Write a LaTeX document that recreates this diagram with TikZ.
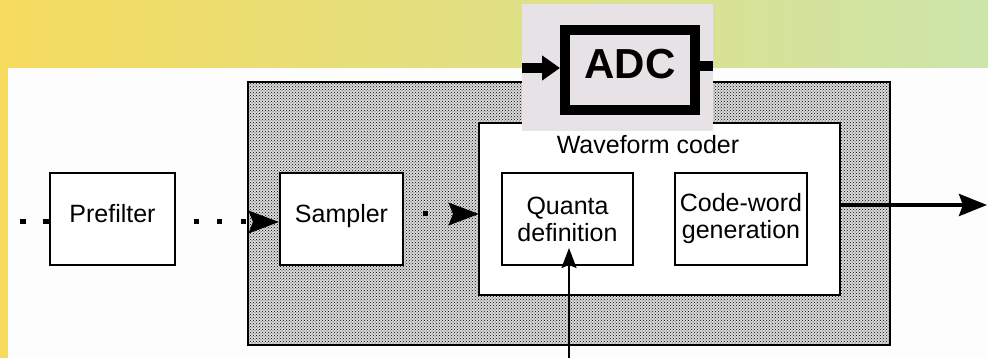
\documentclass[tikz,border=0pt]{standalone}
\usepackage{fontspec}
\setmainfont{Liberation Sans}
\usetikzlibrary{arrows.meta,patterns,calc}
\definecolor{bgL}{RGB}{246,219,94}
\definecolor{bgR}{RGB}{204,229,170}
\definecolor{adcbg}{RGB}{230,226,230}
\definecolor{panel}{RGB}{252,253,252}
\begin{document}
\begin{tikzpicture}[x=1pt,y=-1pt,
  blockbox/.style={draw=black,line width=2pt,fill=white,minimum height=92pt,inner sep=0pt,
    font=\fontsize{25}{27}\selectfont,align=center},
  oneline/.style={text height=18pt,text depth=10pt},
  dotline/.style={line width=5pt,dash pattern=on 5pt off 18.5pt},
  bighead/.style={-{Stealth[length=30pt,width=22pt,inset=4pt]}},
  stipple/.style={draw=black,line width=2pt,fill=black!14,
    postaction={pattern=crosshatch dots,pattern color=black}}]
\useasboundingbox (0,0) rectangle (988,358);
% background
\shade[left color=bgL,right color=bgR] (0,0) rectangle (988,358);
\fill[panel] (8,68) rectangle (988,358);
% ADC outer stippled block
\path[stipple] (248,82) rectangle (890,345);
\node[draw=black,line width=1.5pt,fill=white,minimum width=361pt,minimum height=172pt,inner sep=0pt] (coder) at (659.5,209) {};
\node[font=\fontsize{25}{27}\selectfont] (coderlbl) at (648,145) {Waveform coder};
% blocks
\node[blockbox,oneline,minimum width=125pt] (pre) at (112.5,219) {Prefilter};
\node[blockbox,oneline,minimum width=123pt] (samp) at (341.5,219) {Sampler};
\node[blockbox,minimum width=131pt] (quanta) at (567.5,219) {Quanta\\definition};
\node[blockbox,minimum width=132pt] (cw) at (741,219) {Code-word\\generation};
% connectors
\coordinate (src) at (20,222);
\coordinate (cin) at (479,214);
\coordinate (out) at (987,205);
\coordinate (qbot) at (569,358);
\coordinate (qtip) at (569,248);
\draw[line width=5pt,dash pattern=on 6pt off 17pt] (src) -- (pre.west |- src);
\draw[dotline,dash phase=6pt,bighead] (pre.east |- src) -- (samp.west |- src);
\draw[line width=5pt,dash pattern=on 5pt off 40pt,dash phase=-19pt,bighead] (samp.east |- cin) -- (cin);
\draw[line width=4pt,-{Stealth[length=28pt,width=22pt,inset=4pt]}] (coder.east |- out) -- (out);
\draw[line width=2pt,-{Stealth[length=20pt,width=15pt,inset=3pt]}] (qbot) -- (qtip);
% ADC inset
\fill[adcbg] (522,4) rectangle (713,131);
\node[draw=black,line width=10pt,minimum width=130pt,minimum height=80pt,inner sep=0pt,
  text height=30pt,text depth=12pt,font=\bfseries\fontsize{42}{42}\selectfont] (adc) at (630,70) {ADC};
\coordinate (adcin) at (522,68);
\coordinate (adcout) at (713,66);
\draw[line width=10pt,-{Triangle[length=18pt,width=24pt]}] (adcin) -- (adc.west |- adcin);
\draw[line width=10pt] (adc.east |- adcout) -- (adcout);
\end{tikzpicture}
\end{document}
